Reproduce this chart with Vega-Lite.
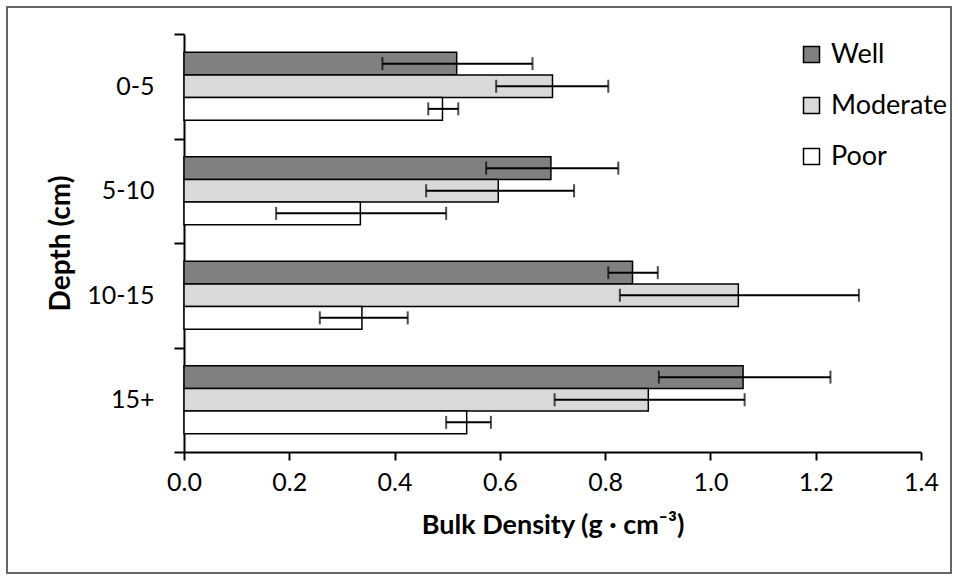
{
  "$schema": "https://vega.github.io/schema/vega-lite/v6.json",
  "width": 944,
  "height": 566,
  "autosize": {"type": "none"},
  "padding": {"left": 7, "top": 7, "right": 7, "bottom": 7},
  "background": "white",
  "config": {
    "view": {"stroke": "#666666", "strokeWidth": 2},
    "font": "Lato",
    "axis": {"labelFont": "Lato", "titleFont": "Lato", "labelColor": "black", "titleColor": "black", "domainColor": "black", "tickColor": "black", "domainWidth": 2, "tickWidth": 2, "grid": false},
    "legend": {"labelFont": "Lato"}
  },
  "data": {
    "values": [
      {"depth": "0-5", "series": "Well", "value": 0.518, "lo": 0.377, "hi": 0.662},
      {"depth": "0-5", "series": "Moderate", "value": 0.700, "lo": 0.593, "hi": 0.806},
      {"depth": "0-5", "series": "Poor", "value": 0.491, "lo": 0.464, "hi": 0.521},
      {"depth": "5-10", "series": "Well", "value": 0.697, "lo": 0.574, "hi": 0.825},
      {"depth": "5-10", "series": "Moderate", "value": 0.597, "lo": 0.460, "hi": 0.741},
      {"depth": "5-10", "series": "Poor", "value": 0.335, "lo": 0.175, "hi": 0.498},
      {"depth": "10-15", "series": "Well", "value": 0.852, "lo": 0.806, "hi": 0.900},
      {"depth": "10-15", "series": "Moderate", "value": 1.053, "lo": 0.828, "hi": 1.282},
      {"depth": "10-15", "series": "Poor", "value": 0.338, "lo": 0.258, "hi": 0.425},
      {"depth": "15+", "series": "Well", "value": 1.062, "lo": 0.902, "hi": 1.228},
      {"depth": "15+", "series": "Moderate", "value": 0.882, "lo": 0.704, "hi": 1.065},
      {"depth": "15+", "series": "Poor", "value": 0.537, "lo": 0.498, "hi": 0.583}
    ]
  },
  "encoding": {
    "y": {
      "field": "depth", "type": "nominal",
      "sort": ["0-5", "5-10", "10-15", "15+"],
      "scale": {"range": [27, 445], "paddingInner": 0, "paddingOuter": 0},
      "axis": {
        "title": "Depth (cm)", "titleFontSize": 28, "titleFontWeight": "bold", "titlePadding": 11,
        "labelFontSize": 25, "labelPadding": 20, "tickSize": 10, "tickBand": "extent",
        "offset": -177
      }
    },
    "yOffset": {
      "field": "series", "type": "nominal",
      "sort": ["Well", "Moderate", "Poor"],
      "scale": {"paddingOuter": 0.81, "paddingInner": 0}
    }
  },
  "layer": [
    {
      "mark": {"type": "bar", "stroke": "black", "strokeWidth": 1.5},
      "encoding": {
        "x": {
          "field": "value", "type": "quantitative",
          "scale": {"domain": [0, 1.4], "range": [177, 914], "nice": false, "zero": true},
          "axis": {
            "title": "Bulk Density (g · cm⁻³)", "titleFontSize": 27, "titleFontWeight": "bold", "titlePadding": 17,
            "values": [0, 0.2, 0.4, 0.6, 0.8, 1.0, 1.2, 1.4], "format": ".1f",
            "labelFontSize": 25, "labelPadding": 10, "tickSize": 8, "labelFlush": false, "labelOverlap": false,
            "offset": -121
          }
        },
        "color": {
          "field": "series", "type": "nominal",
          "scale": {"domain": ["Well", "Moderate", "Poor"], "range": ["#808080", "#d9d9d9", "#ffffff"]},
          "legend": {
            "title": null, "orient": "none", "legendX": 791, "legendY": 34,
            "symbolType": "square", "symbolSize": 256, "symbolStrokeColor": "black", "symbolStrokeWidth": 1.5,
            "labelFontSize": 27, "labelColor": "black", "labelOffset": 6, "rowPadding": 23, "padding": 0
          }
        }
      }
    },
    {
      "mark": {"type": "rule", "color": "black", "strokeWidth": 2},
      "encoding": {
        "x": {"field": "lo", "type": "quantitative"},
        "x2": {"field": "hi"}
      }
    },
    {
      "mark": {"type": "tick", "color": "black", "thickness": 2, "size": 13, "orient": "vertical"},
      "encoding": {"x": {"field": "lo", "type": "quantitative"}}
    },
    {
      "mark": {"type": "tick", "color": "black", "thickness": 2, "size": 13, "orient": "vertical"},
      "encoding": {"x": {"field": "hi", "type": "quantitative"}}
    }
  ]
}
